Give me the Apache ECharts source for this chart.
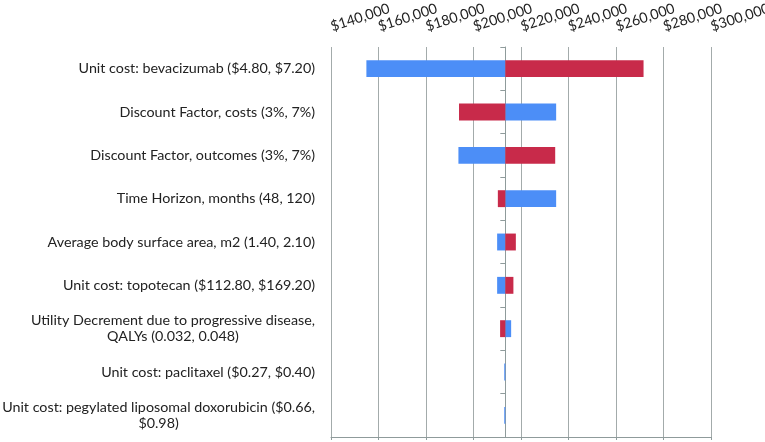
<!DOCTYPE html>
<html>
<head>
<meta charset="utf-8">
<script src="https://cdn.jsdelivr.net/npm/echarts@6/dist/echarts.min.js"></script>
<style>
html,body{margin:0;padding:0;background:#fff;}
#chart{width:765px;height:442px;}
</style>
</head>
<body>
<div id="chart"></div>
<script>
var categories = [
  "Unit cost: bevacizumab ($4.80, $7.20)",
  "Discount Factor, costs (3%, 7%)",
  "Discount Factor, outcomes (3%, 7%)",
  "Time Horizon, months (48, 120)",
  "Average body surface area, m2 (1.40, 2.10)",
  "Unit cost: topotecan ($112.80, $169.20)",
  "Utility Decrement due to progressive disease,\nQALYs (0.032, 0.048)",
  "Unit cost: paclitaxel ($0.27, $0.40)",
  "Unit cost: pegylated liposomal doxorubicin ($0.66,\n$0.98)"
];
var baseValue = 213400;
var blueValues = [154900, 234800, 193650, 234800, 209950, 209950, 215850, 212950, 212950];
var redValues  = [271600, 193900, 234400, 210250, 217830, 216800, 211200, 213400, 213400];
var axisMin = 140000, axisMax = 300000, axisStep = 20000;

function buildData(vals) {
  return vals.map(function (v, i) { return [i, baseValue, v]; });
}
function makeRender(color) {
  return function (params, api) {
    var cat = api.value(0);
    var p1 = api.coord([api.value(1), cat]);
    var p2 = api.coord([api.value(2), cat]);
    var h = api.size([0, 1])[1] * 0.39;
    return {
      type: 'rect',
      shape: { x: Math.min(p1[0], p2[0]), y: p1[1] - h / 2, width: Math.abs(p2[0] - p1[0]), height: h },
      style: { fill: color }
    };
  };
}

var gridColor = '#a3abab';
var axisColor = '#8f9b9b';
var chart = echarts.init(document.getElementById('chart'));
chart.setOption({
  animation: false,
  textStyle: { fontFamily: 'Lato' },
  grid: { left: 331, right: 54, top: 47, bottom: 5, containLabel: false, outerBoundsMode: 'none' },
  xAxis: [
    {
      type: 'value', position: 'top', min: axisMin, max: axisMax, interval: axisStep,
      axisLine: { show: false }, axisTick: { show: false },
      splitLine: { show: true, lineStyle: { color: gridColor, width: 1 } },
      axisLabel: {
        rotate: -18, margin: 20, fontSize: 14.3, color: '#222', fontFamily: 'Lato',
        formatter: function (v) { return '$' + v.toLocaleString('en-US'); }
      }
    },
    {
      type: 'value', position: 'bottom', min: axisMin, max: axisMax, interval: axisStep,
      axisLine: { show: true, onZero: false, lineStyle: { color: axisColor } },
      axisTick: { show: true, length: 3, lineStyle: { color: axisColor } },
      axisLabel: { show: false }, splitLine: { show: false }
    },
    {
      type: 'value', position: 'bottom', show: false,
      min: axisMin - baseValue, max: axisMax - baseValue
    }
  ],
  yAxis: [
    {
      type: 'category', data: categories, inverse: true, position: 'left',
      axisLine: { show: false }, axisTick: { show: false }, splitLine: { show: false },
      axisLabel: {
        margin: 16, fontSize: 14.3, color: '#222', fontFamily: 'Lato', lineHeight: 16,
        formatter: function (v) {
          return v.split('\n').map(function (l) { return '{c|' + l + '}'; }).join('\n');
        },
        rich: { c: { align: 'center', fontSize: 14.3, color: '#222', fontFamily: 'Lato', lineHeight: 16 } }
      }
    },
    {
      type: 'category', data: categories, inverse: true, position: 'left',
      axisLine: { show: true, onZero: true, onZeroAxisIndex: 2, lineStyle: { color: axisColor } },
      axisTick: { show: true, length: 5, lineStyle: { color: axisColor } },
      axisLabel: { show: false }, splitLine: { show: false }
    }
  ],
  series: [
    {
      name: 'Low', type: 'custom', xAxisIndex: 0, yAxisIndex: 0,
      renderItem: makeRender('#4c8ef7'),
      encode: { x: [1, 2], y: 0 },
      data: buildData(blueValues)
    },
    {
      name: 'High', type: 'custom', xAxisIndex: 0, yAxisIndex: 0,
      renderItem: makeRender('#c82a4a'),
      encode: { x: [1, 2], y: 0 },
      data: buildData(redValues)
    }
  ]
});
</script>
</body>
</html>
